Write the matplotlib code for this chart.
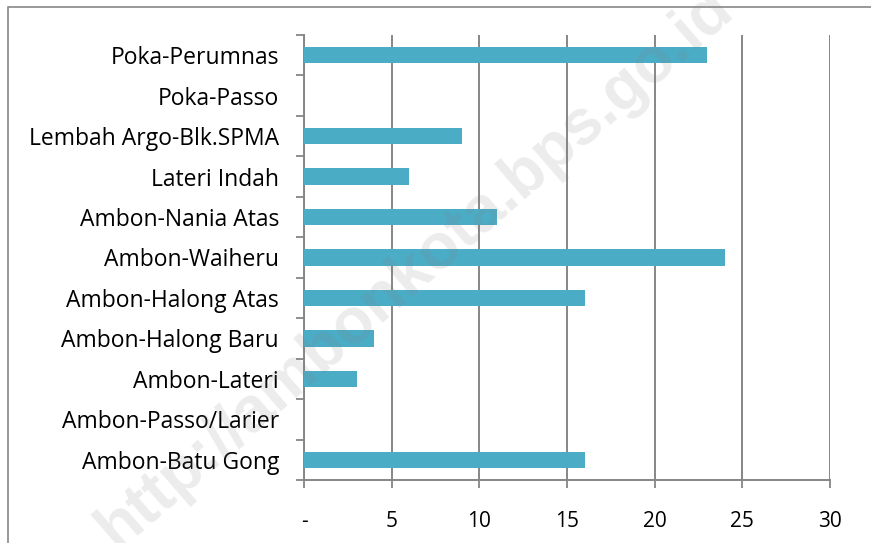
import matplotlib
matplotlib.use("Agg")
import matplotlib.pyplot as plt
from matplotlib.patches import Rectangle

# data (bottom to top)
villages = ["Ambon-Batu Gong", "Ambon-Passo/Larier", "Ambon-Lateri", "Ambon-Halong Baru",
            "Ambon-Halong Atas", "Ambon-Waiheru", "Ambon-Nania Atas", "Lateri Indah",
            "Lembah Argo-Blk.SPMA", "Poka-Passo", "Poka-Perumnas"]
values = [16, 0, 3, 4, 16, 24, 11, 6, 9, 0, 23]
xticks = [0, 5, 10, 15, 20, 25, 30]
xtick_labels = ["-", "5", "10", "15", "20", "25", "30"]

plt.rcParams["font.family"] = ["Open Sans", "DejaVu Sans"]

W, H = 871, 543
fig = plt.figure(figsize=(W / 100, H / 100), dpi=100)
ax = fig.add_axes([304 / W, 1 - 480 / H, (830 - 304) / W, (480 - 35) / H])

ypos = list(range(len(villages)))
ax.barh(ypos, values, height=0.4, color="#4BACC6", linewidth=0, zorder=3)

ax.set_xlim(0, 30)
ax.set_ylim(-0.5, len(villages) - 0.5)
ax.set_xticks(xticks)
ax.set_xticklabels(xtick_labels, fontsize=15)
ax.set_yticks(ypos)
ax.set_yticklabels(villages, fontsize=16.5)
ax.tick_params(axis="y", length=0, pad=18)
ax.set_yticks([i - 0.5 for i in range(len(villages) + 1)], minor=True)
ax.tick_params(axis="y", which="minor", length=6, width=1.3, color="#868686", direction="out")
ax.tick_params(axis="x", length=6, width=1.3, color="#868686", direction="out", pad=16)

ax.grid(axis="x", color="#868686", linewidth=1.4, zorder=0)
for s in ["top", "right"]:
    ax.spines[s].set_visible(False)
for s in ["left", "bottom"]:
    ax.spines[s].set_color("#868686")
    ax.spines[s].set_linewidth(1.4)

# outer chart border
fig.patches.append(Rectangle((8 / W, -0.05), 1.1, 1 - 7 / H + 0.05, transform=fig.transFigure,
                             fill=False, edgecolor="#888888", linewidth=1.2))

# watermark
fig.text(415 / W, 1 - 268 / H, "http://ambonkota.bps.go.id", rotation=41, fontsize=46,
         fontweight="bold", color="#808080", alpha=0.15, ha="center", va="center",
         family=["Liberation Sans", "DejaVu Sans"], zorder=10)

fig.savefig("out.png", dpi=100)
